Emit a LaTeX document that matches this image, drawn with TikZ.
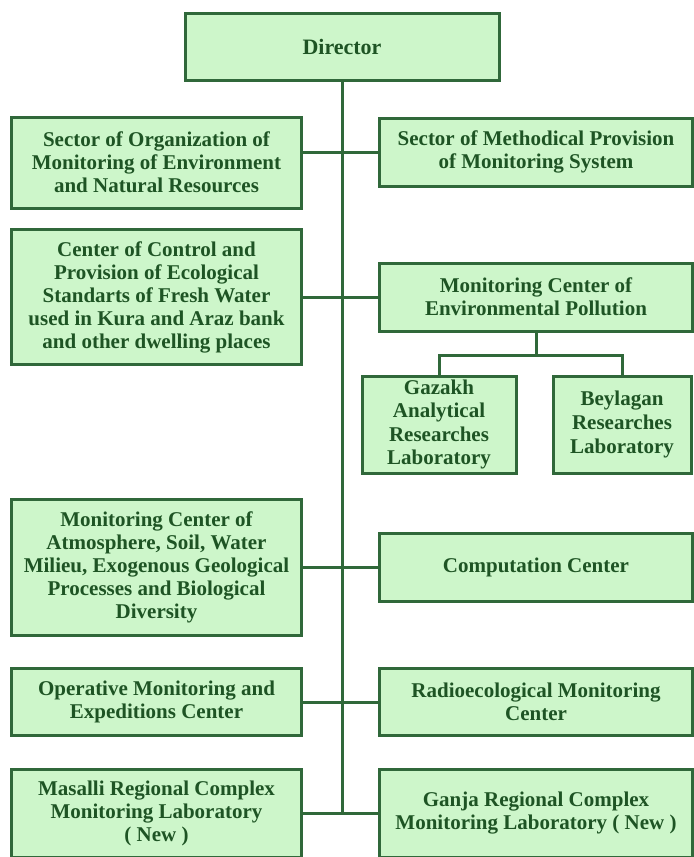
\documentclass[tikz,border=0pt]{standalone}
\usepackage{fontspec}
\setmainfont{Liberation Serif}
\usepackage{tikz}
\usetikzlibrary{positioning}

\definecolor{orgfill}{RGB}{205,246,202}
\definecolor{orgline}{RGB}{48,104,58}
\definecolor{orgtext}{RGB}{30,84,36}
\newcommand{\orgfont}{\fontsize{10.5}{11.5}\selectfont\bfseries}

\begin{document}
\begin{tikzpicture}[x=0.5pt, y=-0.5pt, node distance = 18pt, line width = 1.5pt,
	every node/.style = {rectangle, draw=orgline, fill=orgfill, text=orgtext,
		font=\orgfont, align=center, inner sep=2pt},
	leftbox/.style  = {minimum width=145pt},
	rightbox/.style = {minimum width=156.5pt},
	labbox/.style   = {minimum height=48.5pt, inner sep=0pt}]
	\useasboundingbox (0,0) rectangle (693,857);
	
	% head of the structure
	\node (director) [minimum width=157pt, minimum height=33.5pt] at (342,46.5) {\fontsize{11}{12}\selectfont Director};
	
	% branching points on the main line
	\coordinate (r1) at (342,152);
	\coordinate (r2) at (342,297);
	\coordinate (r3) at (342,567);
	\coordinate (r4) at (342,702);
	\coordinate (r5) at (342,813);
	
	% first row: sectors
	\node (secOrg)  [leftbox, minimum height=45.5pt, left = 19.5pt of r1, yshift=-5.25pt]
		{Sector of Organization of\\ Monitoring of Environment\\ and Natural Resources};
	\node (secMeth) [rightbox, minimum height=34pt, right = of r1]
		{Sector of Methodical Provision\\ of Monitoring System};
	
	% second row: water and pollution
	\node (ctrlWater) [leftbox, minimum height=67.5pt, left = 19.5pt of r2]
		{Center of Control and\\ Provision of Ecological\\ Standarts of Fresh Water\\ used in Kura and Araz bank\\ and other dwelling places};
	\node (monEnv)    [rightbox, minimum height=34pt, right = of r2]
		{Monitoring Center of\\ Environmental Pollution};
	
	% laboratories under the pollution center
	\coordinate [below = 11.5pt of monEnv] (split);
	\node (gazakh)   [labbox, minimum width=77pt, font=\fontsize{10.5}{11.8}\selectfont\bfseries] at (439,424.5)
		{Gazakh\\ Analytical\\ Researches\\ Laboratory};
	\node (beylagan) [labbox, minimum width=69pt, font=\fontsize{10.5}{11.8}\selectfont\bfseries] at (622,424.5)
		{Beylagan\\ Researches\\ Laboratory};
	
	% third row
	\node (monAtm)  [leftbox, minimum height=68pt, left = 19.5pt of r3]
		{Monitoring Center of\\ Atmosphere, Soil, Water\\ Milieu, Exogenous Geological\\ Processes and Biological\\ Diversity};
	\node (compCtr) [rightbox, minimum height=34pt, right = of r3]
		{Computation Center};
	
	% fourth row
	\node (operMon) [leftbox, minimum height=33.5pt, left = 19.5pt of r4]
		{Operative Monitoring and\\ Expeditions Center};
	\node (radioMon) [rightbox, minimum height=33.5pt, right = of r4]
		{Radioecological Monitoring\\ Center};
	
	% fifth row: regional laboratories
	\node (masalli) [leftbox, minimum height=44pt, left = 19.5pt of r5]
		{Masalli Regional Complex\\ Monitoring Laboratory\\ ( New )};
	\node (ganja)   [rightbox, minimum height=44pt, right = of r5]
		{Ganja Regional Complex\\ Monitoring Laboratory ( New )};
	
	% connections
	\draw [orgline]
	(director) -- (r5)
	(secOrg.east |- r1) -- (secMeth.west)
	(ctrlWater) -- (monEnv)
	(monAtm) -- (compCtr)
	(operMon) -- (radioMon)
	(masalli) -- (ganja)
	(monEnv) -- (split)
	(split) -| (gazakh)
	(split) -| (beylagan);
\end{tikzpicture}
\end{document}
